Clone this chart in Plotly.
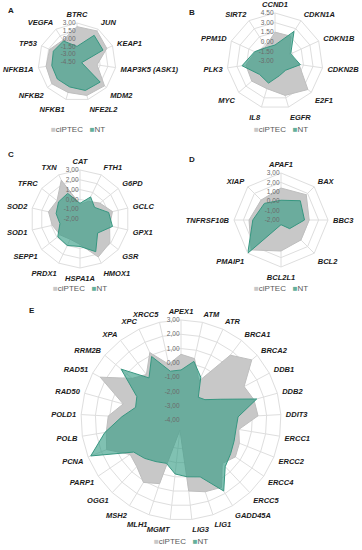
import plotly.graph_objects as go

# ---------------- data ----------------
a_genes = ["BTRC", "JUN", "KEAP1", "MAP3K5 (ASK1)", "MDM2", "NFE2L2", "NFKB1", "NFKB2", "NFKB1A", "TP53", "VEGFA"]
a_ciptec = [2.3, 2.6, 1.8, -0.6, 2.5, 2.2, 1.6, 1.9, 1.5, 1.3, 0.5]
a_nt = [-1.5, 1.6, 1.0, -3.6, 1.4, 1.2, 0.5, 0.5, 0.4, 0.5, 0.3]
a_ticks = [-4.5, -3.0, -1.5, 0.0, 1.5, 3.0]
a_ticktext = ["-4.50", "-3.00", "-1.50", "0.00", "1.50", "3.00"]

b_genes = ["CCND1", "CDKN1A", "CDKN1B", "CDKN2B", "E2F1", "EGFR", "IL8", "MYC", "PLK3", "PPM1D", "SIRT2"]
b_ciptec = [1.5, 1.6, -0.5, 0.8, 3.8, 2.6, 1.5, 1.8, 1.6, 0.4, -0.3]
b_nt = [-0.5, 2.5, -0.3, 1.0, -0.8, -0.6, 0.6, 0.2, 2.2, 0.5, -0.5]
b_ticks = [-3.0, -1.5, 0.0, 1.5, 3.0, 4.5]
b_ticktext = ["-3.00", "-1.50", "0.00", "1.50", "3.00", "4.50"]

c_genes = ["CAT", "FTH1", "G6PD", "GCLC", "GPX1", "GSR", "HMOX1", "HSPA1A", "PRDX1", "SEPP1", "SOD1", "SOD2", "TFRC", "TXN"]
c_ciptec = [-0.5, 0.0, 0.6, 1.4, 1.1, 1.9, 2.3, 0.6, 0.3, 0.6, 0.9, 1.3, 1.0, 2.4]
c_nt = [-0.4, 0.5, -0.1, 1.0, 1.4, 0.3, 1.7, 0.8, 1.0, 0.9, 0.1, 0.5, 0.8, 0.9]
c_ticks = [-2, -1, 0, 1, 2, 3]
c_ticktext = ["-2,00", "-1,00", "0,00", "1,00", "2,00", "3,00"]

d_genes = ["APAF1", "BAX", "BBC3", "BCL2", "BCL2L1", "PMAIP1", "TNFRSF10B", "XIAP"]
d_ciptec = [1.4, 1.8, 1.0, 1.0, 1.3, 2.5, 1.4, 1.0]
d_nt = [0.1, 0.9, 0.5, -0.7, -1.5, 3.0, 1.0, 0.5]
d_ticks = [-2, -1, 0, 1, 2, 3]
d_ticktext = ["-2,00", "-1,00", "0,00", "1,00", "2,00", "3,00"]

e_genes = ["APEX1", "ATM", "ATR", "BRCA1", "BRCA2", "DDB1", "DDB2", "DDIT3", "ERCC1", "ERCC2",
           "ERCC4", "ERCC5", "GADD45A", "LIG1", "LIG3", "MGMT", "MLH1", "MSH2", "OGG1", "PARP1",
           "PCNA", "POLB", "POLD1", "RAD50", "RAD51", "RRM2B", "XPA", "XPC", "XRCC5"]
e_ciptec = [0.6, 0.4, -1.0, 1.7, 2.5, 1.0, 1.3, 1.4, 0.1, 0.4,
            0.6, 0.2, 1.5, 1.3, 1.0, -3.3, 0.7, 1.1, 0.5, 0.3,
            1.6, 1.3, 1.1, 0.2, 2.4, 0.5, 0.0, 1.2, 0.0]
e_nt = [-0.5, 0.2, -0.7, -2.0, -1.8, -0.9, 1.5, 0.0, -0.1, 0.0,
        0.2, 0.5, 1.8, 0.2, 0.0, -0.2, -0.8, -0.6, -0.3, 0.0,
        2.8, 1.4, 0.15, -0.7, -0.5, 1.5, -0.3, 0.9, -0.5]
e_ticks = [-4, -3, -2, -1, 0, 1, 2, 3]
e_ticktext = ["-4,00", "-3,00", "-2,00", "-1,00", "0,00", "1,00", "2,00", "3,00"]

series_names = ["ciPTEC", "NT"]
panel_letters = ["A", "B", "C", "D", "E"]

# ---------------- style ----------------
W, H = 362, 550
GRAY_FILL = "rgb(200,200,200)"
GRAY_LINE = "rgb(190,190,190)"
NT_FILL = "rgba(50,155,130,0.62)"
NT_LINE = "rgb(55,150,128)"
LEG_GRAY = "rgb(200,200,200)"
LEG_NT = "rgb(100,175,155)"
GRID = "rgb(222,222,222)"
LABEL_FONT = dict(family="Liberation Sans, Arial, sans-serif", size=7.5, color="#1a1a1a",
                  weight="bold", style="italic")
TICK_FONT = dict(family="Liberation Sans, Arial, sans-serif", size=6.5, color="#6b6b6b")

# (center x, center y, radius) in pixels, legend position, letter position
panels = [
    dict(genes=a_genes, cip=a_ciptec, nt=a_nt, ticks=a_ticks, tt=a_ticktext, c=(77, 62, 39), leg=(78, 130), letter=(6, 10)),
    dict(genes=b_genes, cip=b_ciptec, nt=b_nt, ticks=b_ticks, tt=b_ticktext, c=(275, 61, 48), leg=(281, 130), letter=(187, 12)),
    dict(genes=c_genes, cip=c_ciptec, nt=c_nt, ticks=c_ticks, tt=c_ticktext, c=(80, 219, 49), leg=(80, 289), letter=(6, 154)),
    dict(genes=d_genes, cip=d_ciptec, nt=d_nt, ticks=d_ticks, tt=d_ticktext, c=(281, 220, 47), leg=(281, 289), letter=(187, 159)),
    dict(genes=e_genes, cip=e_ciptec, nt=e_nt, ticks=e_ticks, tt=e_ticktext, c=(181, 420, 100), leg=(181, 541), letter=(27, 310)),
]

fig = go.Figure()
layout = dict(width=W, height=H, margin=dict(l=0, r=0, t=0, b=0), paper_bgcolor="white",
              plot_bgcolor="white", showlegend=False, annotations=[])

for i, p in enumerate(panels):
    pid = "polar" if i == 0 else f"polar{i+1}"
    cx, cy, R = p["c"]
    genes = p["genes"]
    theta = genes + [genes[0]]
    for name, vals, fill, line in [(series_names[0], p["cip"], GRAY_FILL, GRAY_LINE),
                                   (series_names[1], p["nt"], NT_FILL, NT_LINE)]:
        fig.add_trace(go.Scatterpolar(r=vals + [vals[0]], theta=theta, name=name, subplot=pid,
                                      mode="lines", fill="toself", fillcolor=fill,
                                      line=dict(color=line, width=1)))
    layout[pid] = dict(
        domain=dict(x=[(cx - R) / W, (cx + R) / W], y=[(H - cy - R) / H, (H - cy + R) / H]),
        bgcolor="white",
        gridshape="linear",
        angularaxis=dict(direction="clockwise", rotation=90, categoryorder="array",
                         categoryarray=genes, tickfont=LABEL_FONT, gridcolor=GRID,
                         linecolor=GRID, showline=True, ticks="outside", ticklen=3,
                         tickcolor="rgba(0,0,0,0)"),
        radialaxis=dict(range=[p["ticks"][0], p["ticks"][-1]], tickvals=p["ticks"], ticktext=p["tt"],
                        angle=90, tickangle=90, side="counterclockwise", tickfont=TICK_FONT,
                        showline=False, gridcolor=GRID, ticks=""),
    )
    lx, ly = p["leg"]
    layout["annotations"].append(dict(
        x=lx / W, y=(H - ly) / H, xref="paper", yref="paper", showarrow=False,
        xanchor="center", yanchor="middle",
        text=(f"<span style='color:{LEG_GRAY}'>■</span>{series_names[0]}   "
              f"<span style='color:{LEG_NT}'>■</span>{series_names[1]}"),
        font=dict(family="Liberation Sans, Arial, sans-serif", size=8, color="#595959")))
    tx, ty = p["letter"]
    layout["annotations"].append(dict(
        x=tx / W, y=(H - ty) / H, xref="paper", yref="paper", showarrow=False,
        xanchor="left", yanchor="middle", text=f"<b>{panel_letters[i]}</b>",
        font=dict(family="Liberation Sans, Arial, sans-serif", size=8, color="#1a1a1a")))

fig.update_layout(**layout)
fig.write_html("out.html", config={"displayModeBar": False},
               post_script="document.body.style.margin='0';")
